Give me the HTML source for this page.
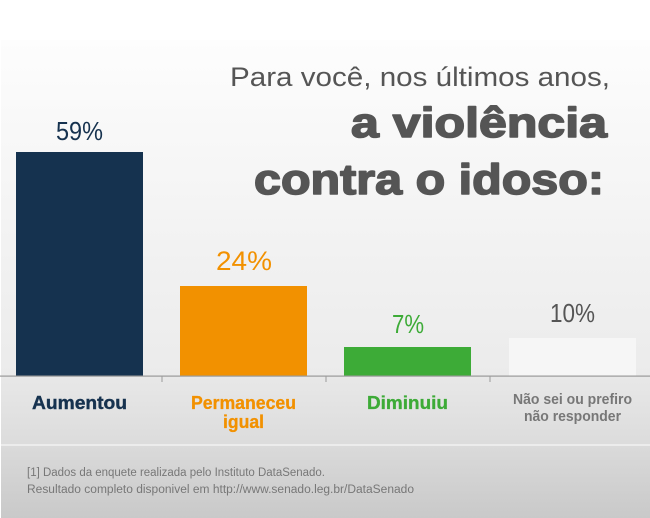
<!DOCTYPE html>
<html><head><meta charset="utf-8"><style>
html,body{margin:0;padding:0;background:#fff;}
svg{display:block;}
text{font-family:"Liberation Sans",sans-serif;}
</style></head><body>
<svg width="650" height="518" viewBox="0 0 650 518" xmlns="http://www.w3.org/2000/svg">
<defs>
<linearGradient id="g1" x1="0" y1="0" x2="0" y2="1">
<stop offset="0" stop-color="#fdfdfd"/><stop offset="1" stop-color="#ebebeb"/>
</linearGradient>
<linearGradient id="g2" x1="0" y1="0" x2="0" y2="1">
<stop offset="0" stop-color="#e8e8e8"/><stop offset="1" stop-color="#dcdcdc"/>
</linearGradient>
<linearGradient id="g3" x1="0" y1="0" x2="0" y2="1">
<stop offset="0" stop-color="#dadada"/><stop offset="1" stop-color="#c9c9c9"/>
</linearGradient>
</defs>
<rect x="0" y="0" width="650" height="518" fill="#fff"/>
<rect x="1" y="40" width="649" height="336" fill="url(#g1)"/>
<rect x="1" y="376" width="649" height="68" fill="url(#g2)"/>
<rect x="1" y="444" width="649" height="2" fill="#ececec"/>
<rect x="1" y="446" width="649" height="72" fill="url(#g3)"/>

<!-- title -->
<text x="610" y="86" font-size="27" fill="#555" text-anchor="end" textLength="380" lengthAdjust="spacingAndGlyphs">Para você, nos últimos anos,</text>
<text x="607" y="137" font-size="42" font-weight="bold" fill="#555" stroke="#555" stroke-width="1.6" stroke-linejoin="round" text-anchor="end" textLength="256" lengthAdjust="spacingAndGlyphs">a violência</text>
<text x="604" y="194" font-size="43" font-weight="bold" fill="#555" stroke="#555" stroke-width="1.6" stroke-linejoin="round" text-anchor="end" textLength="350" lengthAdjust="spacingAndGlyphs">contra o idoso:</text>

<!-- bars -->
<rect x="16" y="152" width="127" height="224" fill="#15324f"/>
<rect x="180" y="286" width="127" height="90" fill="#f29100"/>
<rect x="344" y="347" width="127" height="29" fill="#3dab37"/>
<rect x="509" y="338" width="127" height="38" fill="#f6f6f6"/>

<!-- axis -->
<rect x="0" y="375.5" width="650" height="1.2" fill="#9a9a9a"/>
<rect x="161.5" y="376" width="1" height="6" fill="#9a9a9a"/>
<rect x="325.5" y="376" width="1" height="6" fill="#9a9a9a"/>
<rect x="489.5" y="376" width="1" height="6" fill="#9a9a9a"/>

<!-- percent labels -->
<text x="56" y="140" font-size="26" fill="#16324f" textLength="47" lengthAdjust="spacingAndGlyphs">59%</text>
<text x="216" y="270" font-size="27" fill="#f29100" textLength="56" lengthAdjust="spacingAndGlyphs">24%</text>
<text x="392" y="333" font-size="26" fill="#3dab37" textLength="32" lengthAdjust="spacingAndGlyphs">7%</text>
<text x="550" y="322" font-size="26" fill="#555" textLength="45" lengthAdjust="spacingAndGlyphs">10%</text>

<!-- category labels -->
<text x="32" y="409" font-size="18" font-weight="bold" fill="#16324f" stroke="#16324f" stroke-width="0.4" textLength="95" lengthAdjust="spacingAndGlyphs">Aumentou</text>
<text x="191" y="409" font-size="18" font-weight="bold" fill="#f29100" stroke="#f29100" stroke-width="0.3" textLength="105" lengthAdjust="spacingAndGlyphs">Permaneceu</text>
<text x="223" y="428" font-size="18" font-weight="bold" fill="#f29100" stroke="#f29100" stroke-width="0.3" textLength="41" lengthAdjust="spacingAndGlyphs">igual</text>
<text x="367" y="409" font-size="18" font-weight="bold" fill="#3dab37" stroke="#3dab37" stroke-width="0.3" textLength="81" lengthAdjust="spacingAndGlyphs">Diminuiu</text>
<text x="513" y="404" font-size="15" font-weight="bold" fill="#777" textLength="119" lengthAdjust="spacingAndGlyphs">Não sei ou prefiro</text>
<text x="524" y="421" font-size="15" font-weight="bold" fill="#777" textLength="97" lengthAdjust="spacingAndGlyphs">não responder</text>

<!-- footer -->
<text x="27" y="476" font-size="11.5" fill="#777" textLength="298" lengthAdjust="spacingAndGlyphs">[1] Dados da enquete realizada pelo Instituto DataSenado.</text>
<text x="27" y="493" font-size="11.5" fill="#777" textLength="387" lengthAdjust="spacingAndGlyphs">Resultado completo disponivel em http://www.senado.leg.br/DataSenado</text>
</svg>
</body></html>
